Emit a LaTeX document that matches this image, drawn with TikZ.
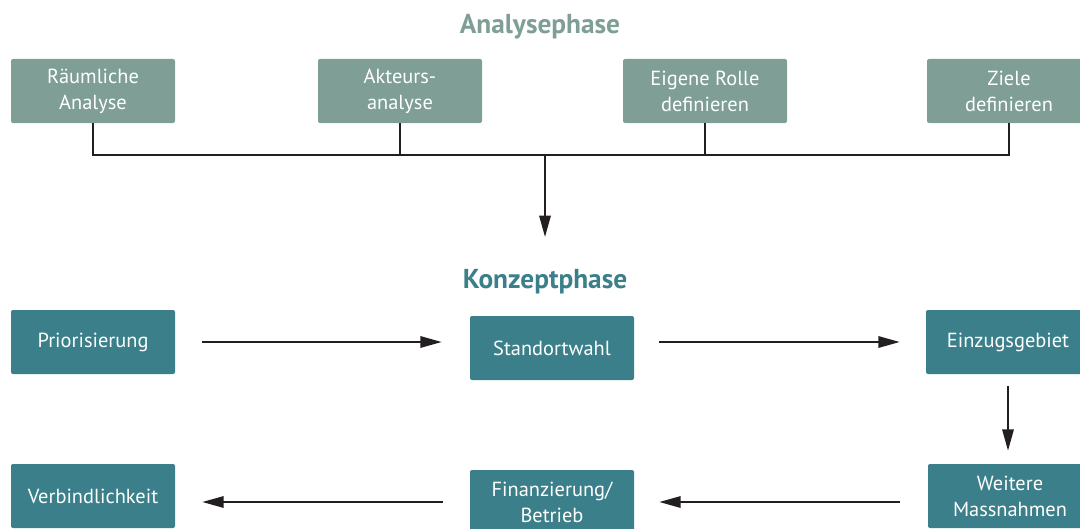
\documentclass[tikz,border=0pt]{standalone}
\usepackage{fontspec}
\setmainfont{PT Sans}
\usetikzlibrary{arrows.meta}
\definecolor{sage}{HTML}{7E9E96}
\definecolor{teal2}{HTML}{3A7F89}
\definecolor{ink}{HTML}{231F20}
\tikzset{
  box/.style={rectangle, rounded corners=1.5pt, minimum width=123pt, minimum height=48pt,
    inner sep=0pt, align=center, text=white, font=\fontsize{15.3}{19.5}\selectfont},
  abox/.style={box, fill=sage},
  kbox/.style={box, fill=teal2},
  title/.style={font=\fontsize{20.5}{24}\selectfont\bfseries},
  conn/.style={draw=ink, line width=1.5pt},
  arr/.style={conn, -{Triangle[length=16pt, width=8.5pt]}},
}
\begin{document}
\begin{tikzpicture}[x=0.75pt, y=-0.75pt]
\useasboundingbox (0,0) rectangle (1080,528);
% titles
\node[title, text=sage] (t1) at (540,27) {Analysephase};
\node[title, text=teal2] (t2) at (545,282) {Konzeptphase};
% analysis boxes
\node[abox] (ra) at (93,91) {Räumliche\\Analyse};
\node[abox] (ak) at (400,91) {Akteurs-\\analyse};
\node[abox] (er) at (705,91) {Eigene Rolle\\definieren};
\node[abox] (zi) at (1009,91) {Ziele\\definieren};
% concept boxes
\node[kbox] (pr) at (93,342) {Priorisierung};
\node[kbox] (st) at (552,348) {Standortwahl};
\node[kbox] (ei) at (1008,342) {Einzugsgebiet};
\node[kbox] (wm) at (1010,496) {Weitere\\Massnahmen};
\node[kbox] (fi) at (552,502) {Finanzierung/\\Betrieb};
\node[kbox] (ve) at (93,496) {Verbindlichkeit};
% tree
\coordinate (bus) at (545,155);
\coordinate (tgt) at (545,237);
\draw[conn] (ra.south) |- (bus) -| (zi.south);
\draw[conn] (ak.south) -- (ak.south |- bus);
\draw[conn] (er.south) -- (er.south |- bus);
\draw[arr] (bus) -- (tgt);
% flow
\draw[arr, shorten <=20.25pt, shorten >=21pt] (pr.east) -- (pr.east -| st.west);
\draw[arr, shorten <=18.75pt, shorten >=19.5pt] (st.east |- ei.west) -- (ei.west);
\draw[arr, shorten <=9pt, shorten >=9.75pt] (ei.south) -- (ei.south |- wm.north);
\draw[arr, shorten <=21pt, shorten >=18.75pt] (wm.west |- fi.east) -- (fi.east);
\draw[arr, shorten <=20.25pt, shorten >=20.25pt] (fi.west) -- (fi.west -| ve.east);
\end{tikzpicture}
\end{document}
